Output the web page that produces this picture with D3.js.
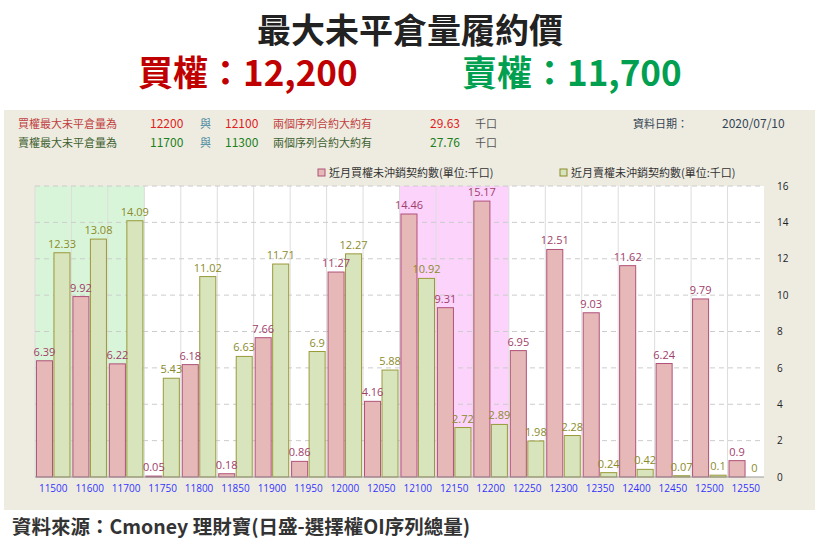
<!DOCTYPE html>
<html><head><meta charset="utf-8">
<script src="https://cdn.jsdelivr.net/npm/d3@7"></script>
<style>body{margin:0;background:#fff;font-family:"Noto Sans CJK TC","Noto Sans",sans-serif}</style>
</head><body><svg id="c" width="820" height="551"></svg>
<script>
const strikes = ['11500','11600','11700','11750','11800','11850','11900','11950','12000','12050','12100','12150','12200','12250','12300','12350','12400','12450','12500','12550'];
const callOI = [6.39,9.92,6.22,0.05,6.18,0.18,7.66,0.86,11.27,4.16,14.46,9.31,15.17,6.95,12.51,9.03,11.62,6.24,9.79,0.9];
const putOI = [12.33,13.08,14.09,5.43,11.02,6.63,11.71,6.9,12.27,5.88,10.92,2.72,2.89,1.98,2.28,0.24,0.42,0.07,0.1,0];
const yTicks = [0,2,4,6,8,10,12,14,16];
const putZone = ['11500','11700'], callZone = ['12100','12200'];

const svg = d3.select('#c');
const F = '"Noto Sans CJK TC",sans-serif';

// 標題
svg.append('text').attr('x',410).attr('y',43).attr('text-anchor','middle')
  .attr('font-size',34).attr('font-weight',700).attr('fill','#222').attr('font-family',F).text('最大未平倉量履約價');
svg.append('text').attr('x',138).attr('y',86).attr('font-size',35).attr('font-weight',700)
  .attr('fill','#c00000').attr('font-family',F).text('買權：12,200');
svg.append('text').attr('x',462).attr('y',86).attr('font-size',35).attr('font-weight',700)
  .attr('fill','#00a050').attr('font-family',F).text('賣權：11,700');

svg.append('rect').attr('x',4).attr('y',110).attr('width',811).attr('height',400).attr('fill','#eeece1');

// 資訊列
const info = [
  {y:128, c:'#c04040', a:'12200', b:'12100', v:'29.63', t:'買權最大未平倉量為', vc:'#e02020'},
  {y:147, c:'#406030', a:'11700', b:'11300', v:'27.76', t:'賣權最大未平倉量為', vc:'#208020'}
];
info.forEach(r => {
  const g = svg.append('g').attr('font-size',11).attr('font-family',F);
  g.append('text').attr('x',18).attr('y',r.y).attr('fill',r.c).text(r.t);
  g.append('text').attr('x',150).attr('y',r.y).attr('fill',r.vc).attr('font-size',12).text(r.a);
  g.append('text').attr('x',200).attr('y',r.y).attr('fill','#4a8aa0').text('與');
  g.append('text').attr('x',225).attr('y',r.y).attr('fill',r.vc).attr('font-size',12).text(r.b);
  g.append('text').attr('x',273).attr('y',r.y).attr('fill',r.c).text('兩個序列合約大約有');
  g.append('text').attr('x',430).attr('y',r.y).attr('fill',r.vc).attr('font-size',12).text(r.v);
  g.append('text').attr('x',475).attr('y',r.y).attr('fill','#555').text('千口');
});
svg.append('text').attr('x',633).attr('y',128).attr('font-size',11).attr('fill','#345').attr('font-family',F).text('資料日期：');
svg.append('text').attr('x',722).attr('y',128).attr('font-size',12).attr('fill','#345').attr('font-family',F).text('2020/07/10');

// 圖例
[[318,'#e6b8b7','#b0527a','近月買權未沖銷契約數(單位:千口)'],[560,'#d7e4bc','#8b8b2a','近月賣權未沖銷契約數(單位:千口)']].forEach(l=>{
  svg.append('rect').attr('x',l[0]).attr('y',169).attr('width',7).attr('height',7).attr('fill',l[1]).attr('stroke',l[2]);
  svg.append('text').attr('x',l[0]+11).attr('y',177).attr('font-size',11).attr('fill','#333').attr('font-family',F).text(l[3]);
});

const x0 = 35, x1 = 764, yTop = 186, yBot = 477;
const x = d3.scaleBand().domain(strikes).range([x0,x1]);
const y = d3.scaleLinear().domain([0,16]).range([yBot,yTop]);
const g = svg.append('g');
g.append('rect').attr('x',x0).attr('y',yTop).attr('width',x1-x0).attr('height',yBot-yTop).attr('fill','#fff');
g.append('rect').attr('x',x(putZone[0])).attr('y',yTop).attr('width',x(putZone[1])+x.bandwidth()-x(putZone[0]))
  .attr('height',yBot-yTop).attr('fill','#d9f5d9');
g.append('rect').attr('x',x(callZone[0])).attr('y',yTop).attr('width',x(callZone[1])+x.bandwidth()-x(callZone[0]))
  .attr('height',yBot-yTop).attr('fill','#fbd3fb');
strikes.forEach(s=>g.append('line').attr('x1',x(s)).attr('x2',x(s)).attr('y1',yTop).attr('y2',yBot).attr('stroke','#ddd'));
yTicks.slice(1).forEach(t=>g.append('line').attr('x1',x0).attr('x2',x1).attr('y1',y(t)).attr('y2',y(t))
  .attr('stroke','#ccc').attr('stroke-dasharray','5,4'));

const bw = x.bandwidth()*0.44, gap = x.bandwidth()*0.04;
strikes.forEach((s,i)=>{
  const cx = x(s)+gap, px = x(s)+gap+bw+gap;
  g.append('rect').attr('x',cx).attr('y',y(callOI[i])).attr('width',bw).attr('height',yBot-y(callOI[i]))
    .attr('fill','#e6b8b7').attr('stroke','#b0527a');
  g.append('rect').attr('x',px).attr('y',y(putOI[i])).attr('width',bw).attr('height',yBot-y(putOI[i]))
    .attr('fill','#d7e4bc').attr('stroke','#9a9a3a');
  g.append('text').attr('x',cx+bw/2).attr('y',y(callOI[i])-5).attr('text-anchor','middle').attr('font-size',11)
    .attr('fill','#a0406a').attr('font-family','"Open Sans",sans-serif').text(callOI[i]);
  g.append('text').attr('x',px+bw/2).attr('y',y(putOI[i])-5).attr('text-anchor','middle').attr('font-size',11)
    .attr('fill','#8b8b2a').attr('font-family','"Open Sans",sans-serif').text(putOI[i]);
});
g.append('line').attr('x1',x0).attr('x2',x1).attr('y1',yBot).attr('y2',yBot).attr('stroke','#999');

const ya = svg.append('g').attr('transform',`translate(${x1+10},0)`)
  .call(d3.axisRight(y).tickValues(yTicks).tickSize(0));
ya.select('.domain').remove();
ya.selectAll('text').attr('font-size',10).attr('fill','#222').attr('font-family','"Open Sans",sans-serif');

const xa = svg.append('g').attr('transform',`translate(0,${yBot+5})`).call(d3.axisBottom(x).tickSize(0));
xa.select('.domain').remove();
xa.selectAll('text').attr('font-size',10).attr('fill','#3333ff').attr('font-family','"Open Sans",sans-serif');

svg.append('text').attr('x',12).attr('y',534).attr('font-size',19.5).attr('font-weight',700).attr('fill','#333')
  .attr('font-family',F).text('資料來源：Cmoney 理財寶(日盛-選擇權OI序列總量)');
</script></body></html>
